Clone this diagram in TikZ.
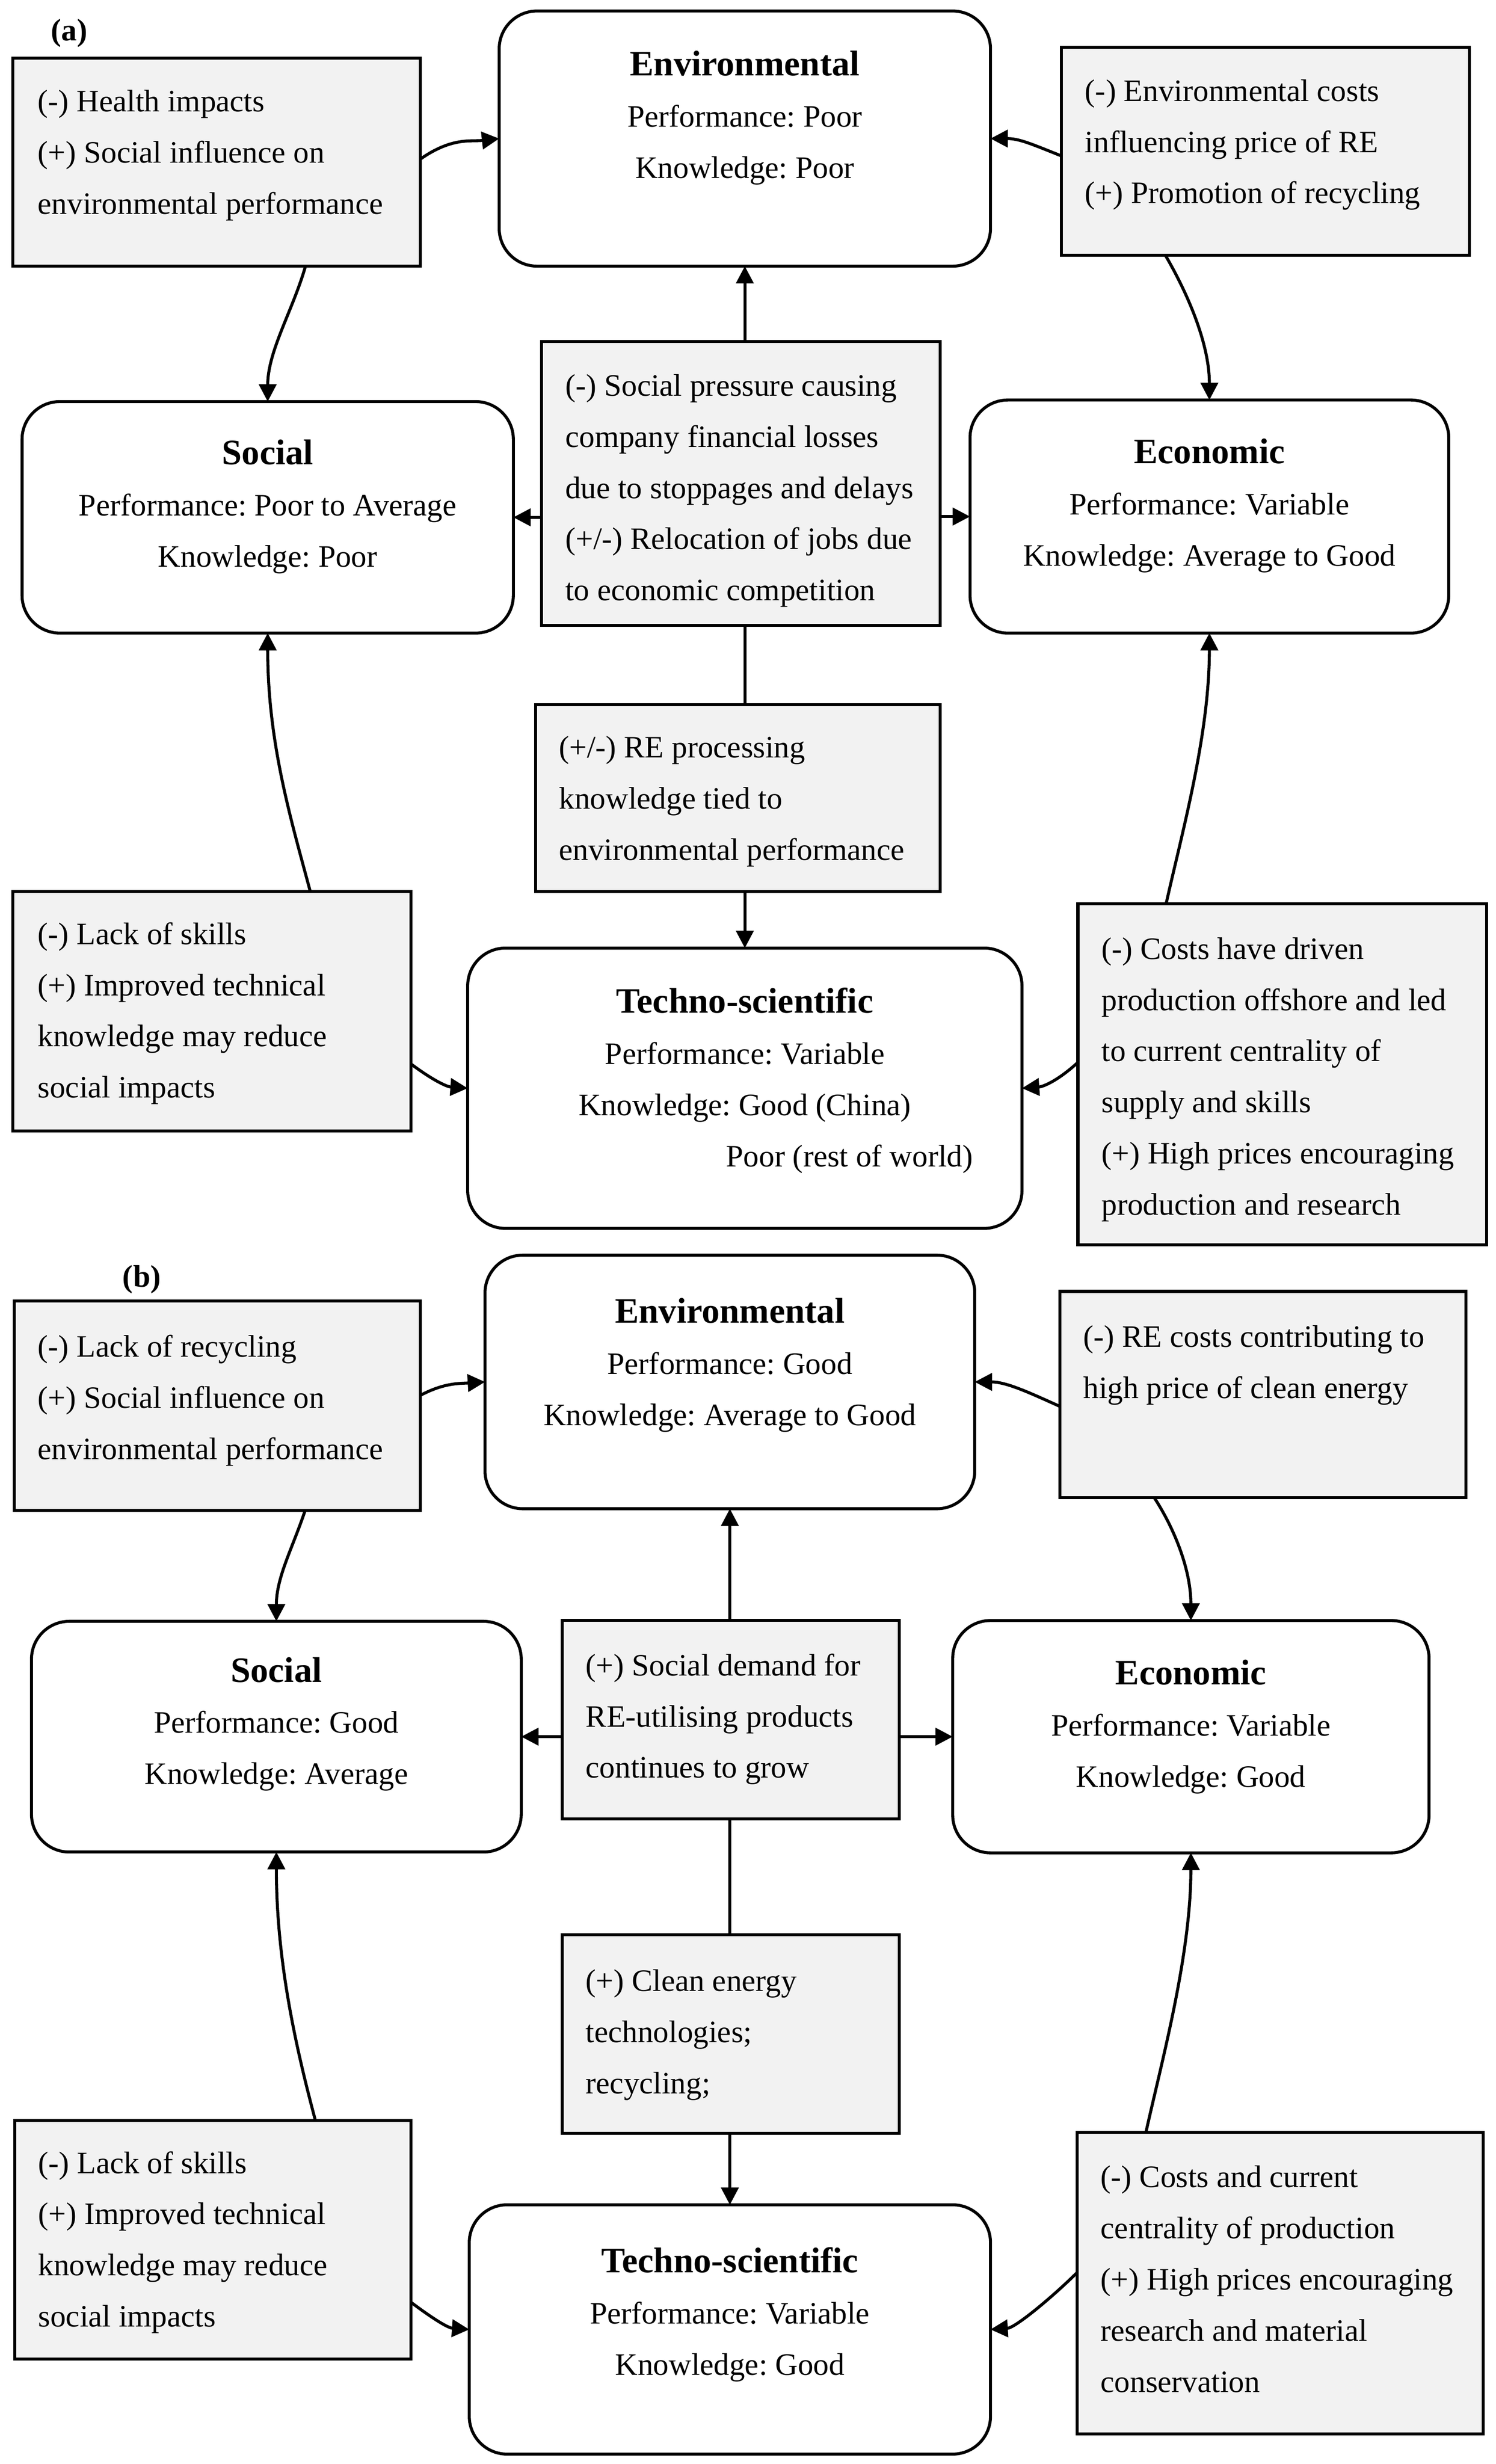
\documentclass[tikz,border=0pt]{standalone}
\usepackage{fontspec}
\setmainfont{Liberation Serif}
\usetikzlibrary{arrows.meta,calc}
\definecolor{boxgray}{RGB}{242,242,242}
\frenchspacing
% gray box content: width, height, left pad, top gap, text
\newcommand\gbx[5]{\parbox[c][#2][t]{#1}{\frenchspacing\raggedright\leftskip=#3\rightskip=0pt plus 1fil\parindent=0pt\vspace*{#4}\strut#5}}
% centred box content: width, height, top gap, text
\newcommand\cbx[4]{\parbox[c][#2][t]{#1}{\frenchspacing\centering\vspace*{#3}\strut#4}}
\newcommand\ttl[1]{{\fontsize{22.7}{32.5}\selectfont\bfseries #1}}
\tikzset{
  base/.style={inner sep=0pt, outer sep=0pt, anchor=north west, line width=1.9pt,
               font=\fontsize{19.8}{32.5}\selectfont},
  gbox/.style={base, draw, fill=boxgray},
  rbox/.style={base, draw, fill=white, rounded corners=24pt},
  arr/.style={line width=1.9pt, -{Triangle[length=11pt,width=11pt]}},
  plainline/.style={line width=1.9pt},
  tag/.style={font=\fontsize{19.8}{24}\selectfont\bfseries, inner sep=0pt}
}
\begin{document}
\begin{tikzpicture}[x=1pt,y=-1pt]
\fill[white] (0,0) rectangle (950,1564.6);
\useasboundingbox (0,0) rectangle (950,1564.6);

% ---------------- panel (a) ----------------
\node[tag] (laba) at (44,21) {(a)};
\node[rbox] (Enva) at (317,7) {\cbx{312pt}{162pt}{18.25pt}{\ttl{Environmental}\\Performance: Poor\\Knowledge: Poor}};
\node[gbox] (A1) at (8,37) {\gbx{259pt}{132pt}{16pt}{11.25pt}{(-) Health impacts\\(+) Social influence on\\environmental performance}};
\node[gbox] (A2) at (674,30) {\gbx{259pt}{132pt}{15pt}{11.45pt}{(-) Environmental costs\\influencing price of RE\\(+) Promotion of recycling}};
\node[rbox] (Sociala) at (14,255) {\cbx{312pt}{147pt}{17.25pt}{\ttl{Social}\\Performance: Poor to Average\\Knowledge: Poor}};
\node[gbox] (C1) at (344,217) {\gbx{253pt}{180pt}{15pt}{11.65pt}{(-) Social pressure causing\\company financial losses\\due to stoppages and delays\\(+/-) Relocation of jobs due\\to economic competition}};
\node[rbox] (Econa) at (616,254) {\cbx{304pt}{148pt}{17.65pt}{\ttl{Economic}\\Performance: Variable\\Knowledge: Average to Good}};
\node[gbox] (C2) at (340,447.5) {\gbx{257pt}{118.5pt}{15pt}{11pt}{(+/-) RE processing\\knowledge tied to\\environmental performance}};
\node[gbox] (L3) at (8,566) {\gbx{253pt}{152pt}{16pt}{10.85pt}{(-) Lack of skills\\(+) Improved technical\\knowledge may reduce\\social impacts}};
\node[rbox] (Techa) at (297,602) {\cbx{352pt}{178pt}{18.45pt}{\ttl{Techno-scientific}\\Performance: Variable\\Knowledge: Good (China)\\\hspace*{133pt}Poor (rest of world)}};
\node[gbox] (R3) at (684.5,574) {\gbx{259.5pt}{216.4pt}{15pt}{12.25pt}{(-) Costs have driven\\production offshore and led\\to current centrality of\\supply and skills\\(+) High prices encouraging\\production and research}};

\draw[arr] ($(A1.north east)+(0,64)$) .. controls +(20,-14) and +(-18,2) .. (Enva.west);
\draw[arr] ($(A1.south west)+(186,0)$) .. controls +(-8,28) and +(0,-32) .. (Sociala.north);
\draw[arr] ($(A2.north west)+(0,69)$) .. controls +(-20,-8) and +(18,0) .. (Enva.east);
\draw[arr] ($(A2.south west)+(66,0)$) .. controls +(14,24) and +(0,-36) .. (Econa.north);
\draw[arr] (C1.north -| Enva.south) -- (Enva.south);
\draw[arr] (Sociala.east -| C1.west) -- (Sociala.east);
\draw[arr] (Econa.west -| C1.east) -- (Econa.west);
\draw[plainline] (C1.south -| Enva.south) -- (C2.north -| Enva.south);
\draw[arr] (C2.south -| Techa.north) -- (Techa.north);
\draw[arr] ($(L3.north west)+(189,0)$) .. controls +(-12,-45) and +(0,70) .. (Sociala.south);
\draw[arr] ($(L3.north east)+(0,109.6)$) .. controls +(12,9) and +(-14,-1) .. (Techa.west);
\draw[arr] ($(R3.north west)+(56,0)$) .. controls +(10,-45) and +(0,65) .. (Econa.south);
\draw[arr] ($(R3.north west)+(0,100.6)$) .. controls +(-12,11) and +(14,-1) .. (Techa.east);

% ---------------- panel (b) ----------------
\node[tag] (labb) at (90,812.5) {(b)};
\node[rbox] (Envb) at (308,797) {\cbx{311pt}{161pt}{20.25pt}{\ttl{Environmental}\\Performance: Good\\Knowledge: Average to Good}};
\node[gbox] (B1) at (9,826) {\gbx{258pt}{133pt}{15pt}{12.85pt}{(-) Lack of recycling\\(+) Social influence on\\environmental performance}};
\node[gbox] (B2) at (673,820) {\gbx{258pt}{131pt}{15pt}{12.75pt}{(-) RE costs contributing to\\high price of clean energy}};
\node[rbox] (Socialb) at (20,1029.5) {\cbx{311pt}{146.5pt}{15.75pt}{\ttl{Social}\\Performance: Good\\Knowledge: Average}};
\node[gbox] (D1) at (357,1029) {\gbx{214pt}{126pt}{15pt}{12.25pt}{(+) Social demand for\\RE-utilising products\\continues to grow}};
\node[rbox] (Econb) at (605,1029) {\cbx{302.5pt}{147.5pt}{18pt}{\ttl{Economic}\\Performance: Variable\\Knowledge: Good}};
\node[gbox] (D2) at (357,1228.5) {\gbx{214pt}{126pt}{15pt}{13.15pt}{(+) Clean energy\\technologies;\\recycling;}};
\node[gbox] (L3b) at (9.3,1346.5) {\gbx{251.7pt}{151.5pt}{15pt}{10.75pt}{(-) Lack of skills\\(+) Improved technical\\knowledge may reduce\\social impacts}};
\node[rbox] (Techb) at (298,1400) {\cbx{331pt}{158.3pt}{20.25pt}{\ttl{Techno-scientific}\\Performance: Variable\\Knowledge: Good}};
\node[gbox] (R3b) at (684,1354) {\gbx{258pt}{191.5pt}{15pt}{12.25pt}{(-) Costs and current\\centrality of production\\(+) High prices encouraging\\research and material\\conservation}};

\draw[arr] ($(B1.north east)+(0,60)$) .. controls +(15,-8) and +(-16,1) .. (Envb.west);
\draw[arr] ($(B1.south west)+(184.8,0)$) .. controls +(-8,24) and +(0,-28) .. (Socialb.north);
\draw[arr] ($(B2.north west)+(0,73)$) .. controls +(-20,-9) and +(20,0) .. (Envb.east);
\draw[arr] ($(B2.south west)+(60,0)$) .. controls +(13,20) and +(0,-32) .. (Econb.north);
\draw[arr] (D1.north -| Envb.south) -- (Envb.south);
\draw[arr] (Socialb.east -| D1.west) -- (Socialb.east);
\draw[arr] (Econb.west -| D1.east) -- (Econb.west);
\draw[plainline] (D1.south -| Envb.south) -- (D2.north -| Envb.south);
\draw[arr] (D2.south -| Techb.north) -- (Techb.north);
\draw[arr] ($(L3b.north west)+(191,0)$) .. controls +(-12,-45) and +(0,70) .. (Socialb.south);
\draw[arr] ($(L3b.north east)+(0,115.4)$) .. controls +(12,9) and +(-14,-1) .. (Techb.west);
\draw[arr] ($(R3b.north west)+(43.7,0)$) .. controls +(10,-45) and +(0,65) .. (Econb.south);
\draw[arr] ($(R3b.north west)+(0,89)$) .. controls +(-14,14) and +(16,-1) .. (Techb.east);
\end{tikzpicture}
\end{document}
